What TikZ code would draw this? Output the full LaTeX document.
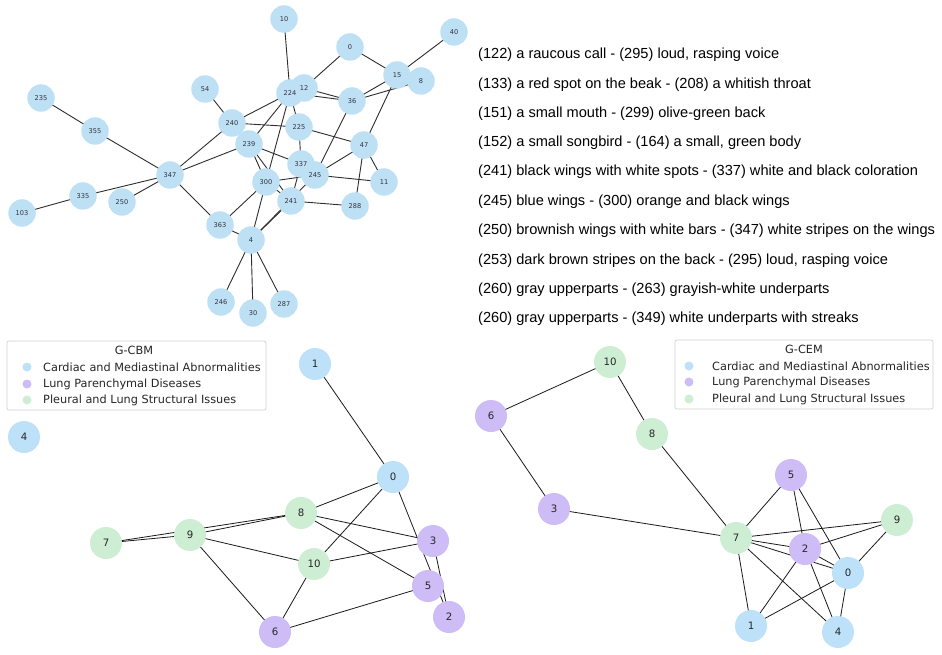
\documentclass[tikz,border=0pt]{standalone}
\usepackage{fontspec}
\setmainfont{DejaVu Sans}
\newfontfamily\arial{Liberation Sans}
\pgfdeclarelayer{background}
\pgfdeclarelayer{front}
\pgfsetlayers{background,main,front}
\definecolor{topblue}{RGB}{190,224,245}
\definecolor{cblue}{RGB}{190,225,250}
\definecolor{cpurple}{RGB}{205,188,245}
\definecolor{cgreen}{RGB}{206,238,212}
\definecolor{labgray}{RGB}{50,50,60}
\definecolor{edgegray}{RGB}{45,45,45}
\tikzset{
  tn/.style={circle, fill=topblue, minimum size=27.5pt, inner sep=0pt},
  tlab/.style={inner sep=0pt, font=\fontsize{6.6}{7}\selectfont, text=labgray},
  bn/.style={circle, minimum size=32pt, inner sep=0pt, font=\fontsize{10.2}{12}\selectfont, text=black!85},
  bb/.style={bn, fill=cblue},
  bp/.style={bn, fill=cpurple},
  bg/.style={bn, fill=cgreen},
  tedge/.style={draw=edgegray, line width=0.9pt},
  bedge/.style={draw=black!90, line width=0.8pt},
  legbox/.style={draw=black!18, line width=0.7pt, rounded corners=2pt, fill=white},
  legtxt/.style={anchor=west, inner sep=0pt, font=\fontsize{11.3}{13}\selectfont, text=black!85},
  legtitle/.style={inner sep=0pt, font=\fontsize{11.3}{13}\selectfont, text=black!85},
  legdot/.style={circle, minimum size=9pt, inner sep=0pt},
  listtxt/.style={anchor=west, inner sep=0pt, font=\arial\fontsize{14.6}{17}\selectfont, text=black}
}
\newcommand\TN[3]{\node[tn] (t#1) at (#2) {};
  \begin{pgfonlayer}{front}\node[tlab] (t#1l) at (t#1) {#3};\end{pgfonlayer}}
\begin{document}
\begin{tikzpicture}[x=1pt,y=-1pt]
\useasboundingbox (0,0) rectangle (942,655);
% ---------------- top graph ----------------
\TN{10}{284,19}{10}
\TN{0}{350,47}{0}
\TN{40}{454,32}{40}
\TN{15}{397,75}{15}
\TN{8}{421,81}{8}
\TN{224}{290,93}{224}
\TN{12}{304,88}{12}
\TN{36}{352,101}{36}
\TN{54}{205,89}{54}
\TN{240}{232,123}{240}
\TN{225}{299,127}{225}
\TN{239}{249,144}{239}
\TN{47}{364,145}{47}
\TN{235}{41,98}{235}
\TN{355}{95,131}{355}
\TN{347}{170,175}{347}
\TN{335}{83,196}{335}
\TN{250}{122,202}{250}
\TN{103}{22,213}{103}
\TN{363}{220,225}{363}
\TN{337}{301,164}{337}
\TN{245}{315,175}{245}
\TN{300}{266,182}{300}
\TN{11}{384,182}{11}
\TN{241}{291,201}{241}
\TN{288}{355,206}{288}
\TN{4}{251,240}{4}
\TN{246}{221,302}{246}
\TN{30}{253,313}{30}
\TN{287}{284,304}{287}
\begin{pgfonlayer}{background}
\foreach \a/\b in {10/224, 0/12, 0/15, 40/15, 15/36, 8/36, 12/36, 224/36, 15/47, 54/240,
  240/224, 240/225, 239/224, 224/225, 225/47, 225/337, 36/245, 47/245, 47/11, 47/288,
  224/300, 239/300, 239/337, 240/347, 239/347, 355/347, 235/355, 347/335, 335/103, 347/250,
  347/363, 363/300, 363/4, 4/246, 4/30, 4/287, 4/241, 4/245, 300/245, 300/241, 239/241,
  245/11, 241/288, 337/241, 300/4}
  \draw[tedge] (t\a.center) -- (t\b.center);
\end{pgfonlayer}
% ---------------- list ----------------
\node[listtxt] (l1) at (478,55) {(122) a raucous call - (295) loud, rasping voice};
\node[listtxt] (l2) at (478,85) {(133) a red spot on the beak - (208) a whitish throat};
\node[listtxt] (l3) at (478,114) {(151) a small mouth - (299) olive-green back};
\node[listtxt] (l4) at (478,143) {(152) a small songbird - (164) a small, green body};
\node[listtxt] (l5) at (478,172) {(241) black wings with white spots - (337) white and black coloration};
\node[listtxt] (l6) at (478,202) {(245) blue wings - (300) orange and black wings};
\node[listtxt] (l7) at (478,231) {(250) brownish wings with white bars - (347) white stripes on the wings};
\node[listtxt] (l8) at (478,261) {(253) dark brown stripes on the back - (295) loud, rasping voice};
\node[listtxt] (l9) at (478,290) {(260) gray upperparts - (263) grayish-white underparts};
\node[listtxt] (l10) at (478,319) {(260) gray upperparts - (349) white underparts with streaks};
% ---------------- G-CBM ----------------
\node[bb] (a4) at (24,437) {4};
\node[bb] (a1) at (315,364) {1};
\node[bb] (a0) at (393,477) {0};
\node[bg] (a8) at (301,513) {8};
\node[bg] (a9) at (190,535) {9};
\node[bg] (a7) at (106,543) {7};
\node[bg] (a10) at (314,564) {10};
\node[bp] (a3) at (433,541) {3};
\node[bp] (a5) at (428,586) {5};
\node[bp] (a2) at (449,617) {2};
\node[bp] (a6) at (275,632) {6};
\begin{pgfonlayer}{background}
\foreach \a/\b in {1/0, 0/8, 0/10, 0/2, 3/2, 8/9, 8/3, 8/5, 9/7, 8/7, 9/10, 9/6, 10/3, 10/6, 6/5}
  \draw[bedge] (a\a.center) -- (a\b.center);
\end{pgfonlayer}
\draw[legbox] (7,341) rectangle (266,410);
\node[legtitle] (lgA) at (134,350) {G-CBM};
\node[legdot, fill=cblue] (lgA1) at (27,367) {};
\node[legdot, fill=cpurple] (lgA2) at (27,384) {};
\node[legdot, fill=cgreen] (lgA3) at (27,400) {};
\node[legtxt] (lgA1t) at (43,367) {Cardiac and Mediastinal Abnormalities};
\node[legtxt] (lgA2t) at (43,384) {Lung Parenchymal Diseases};
\node[legtxt] (lgA3t) at (43,400) {Pleural and Lung Structural Issues};
% ---------------- G-CEM ----------------
\node[bg] (b10) at (610,362) {10};
\node[bp] (b6) at (491,416) {6};
\node[bg] (b8) at (652,434) {8};
\node[bp] (b5) at (791,475) {5};
\node[bp] (b3) at (554,509) {3};
\node[bg] (b9) at (897,520) {9};
\node[bg] (b7) at (736,538) {7};
\node[bp] (b2) at (805,549) {2};
\node[bb] (b0) at (848,573) {0};
\node[bb] (b1) at (751,626) {1};
\node[bb] (b4) at (838,632) {4};
\begin{pgfonlayer}{background}
\foreach \a/\b in {10/6, 10/8, 6/3, 3/7, 8/7, 7/5, 7/9, 7/2, 7/0, 7/1, 7/4, 5/2, 5/0, 9/2, 9/0, 2/1, 2/4, 2/0, 0/1, 0/4}
  \draw[bedge] (b\a.center) -- (b\b.center);
\end{pgfonlayer}
\draw[legbox] (675,340) rectangle (933,409);
\node[legtitle] (lgB) at (804,349) {G-CEM};
\node[legdot, fill=cblue] (lgB1) at (689,366) {};
\node[legdot, fill=cpurple] (lgB2) at (689,382) {};
\node[legdot, fill=cgreen] (lgB3) at (689,399) {};
\node[legtxt] (lgB1t) at (712,366) {Cardiac and Mediastinal Abnormalities};
\node[legtxt] (lgB2t) at (712,382) {Lung Parenchymal Diseases};
\node[legtxt] (lgB3t) at (712,399) {Pleural and Lung Structural Issues};
\end{tikzpicture}
\end{document}
